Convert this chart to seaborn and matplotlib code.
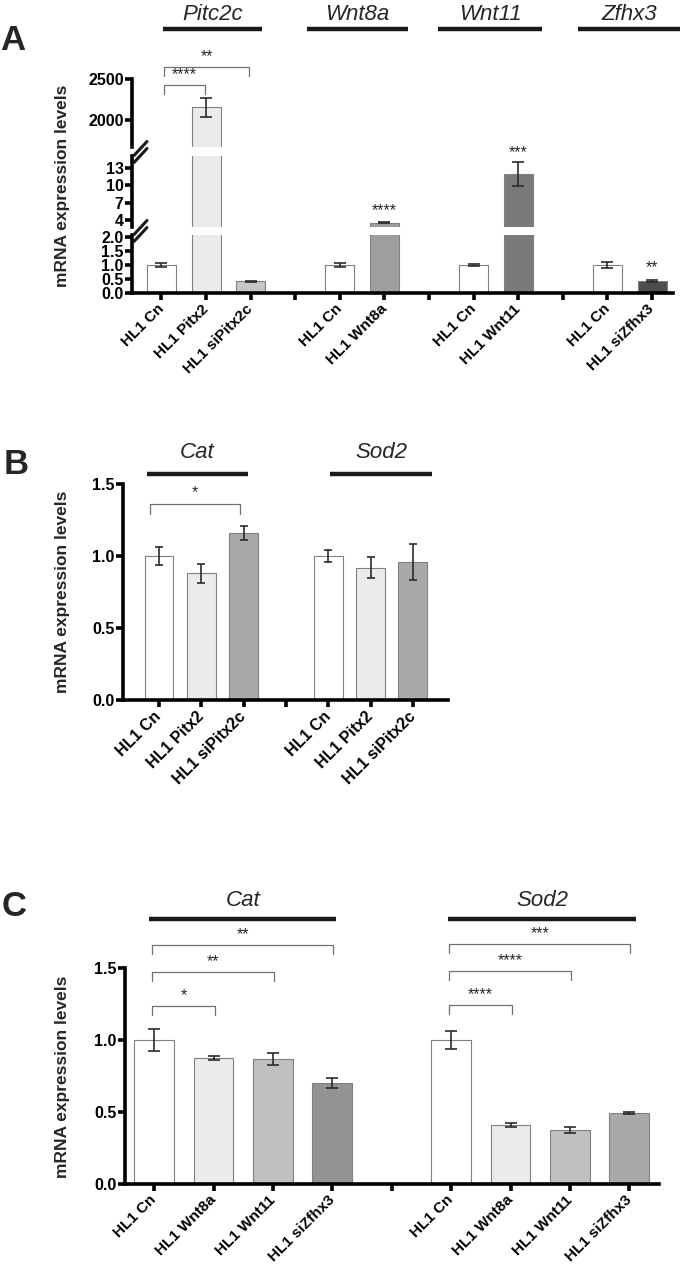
import pandas as pd
import seaborn as sns
from matplotlib import pyplot as plt
from matplotlib import transforms
from matplotlib.lines import Line2D

W, H = 682, 1270

# ---- panel A ----
a_genes = ["Pitc2c", "Wnt8a", "Wnt11", "Zfhx3"]
a_labels = [["HL1 Cn", "HL1 Pitx2", "HL1 siPitx2c"],
            ["HL1 Cn", "HL1 Wnt8a"],
            ["HL1 Cn", "HL1 Wnt11"],
            ["HL1 Cn", "HL1 siZfhx3"]]
a_means = [[1.0, 2155, 0.42], [1.0, 3.5], [1.0, 11.95], [1.0, 0.43]]
a_sems = [[0.07, 116, 0.015], [0.08, 0.1], [0.02, 2.1], [0.1, 0.03]]
a_colors = [["#ffffff", "#ebebeb", "#c6c6c6"], ["#ffffff", "#9e9e9e"],
            ["#ffffff", "#7a7a7a"], ["#ffffff", "#4d4d4d"]]
# (slot_from, slot_to, height, label) -- heights in top-segment units
a_brackets = [(0, 1, 2427, "****"), (0, 2, 2646, "**")]
# single stars: (slot, height, label, segment)
a_stars = [(5, 5.56, "****", "mid"), (8, 15.6, "***", "mid"), (11, 0.89, "**", "bot")]

# ---- panel B ----
b_genes = ["Cat", "Sod2"]
b_labels = [["HL1 Cn", "HL1 Pitx2", "HL1 siPitx2c"]] * 2
b_means = [[1.0, 0.88, 1.16], [1.0, 0.92, 0.955]]
b_sems = [[0.06, 0.065, 0.05], [0.045, 0.07, 0.125]]
b_colors = [["#ffffff", "#ebebeb", "#a9a9a9"]] * 2
b_brackets = [(0, 2, 1.36, "*")]

# ---- panel C ----
c_genes = ["Cat", "Sod2"]
c_labels = [["HL1 Cn", "HL1 Wnt8a", "HL1 Wnt11", "HL1 siZfhx3"]] * 2
c_means = [[1.0, 0.875, 0.865, 0.70], [1.0, 0.41, 0.375, 0.49]]
c_sems = [[0.075, 0.013, 0.042, 0.035], [0.065, 0.012, 0.02, 0.007]]
c_colors = [["#ffffff", "#ebebeb", "#c0c0c0", "#939393"],
            ["#ffffff", "#ebebeb", "#c0c0c0", "#a9a9a9"]]
c_brackets = [(0, 1, 1.236, "*"), (0, 2, 1.472, "**"), (0, 3, 1.66, "**"),
              (5, 6, 1.243, "****"), (5, 7, 1.479, "****"), (5, 8, 1.667, "***")]


def build(labels, means, sems, colors):
    # one slot per bar, with an empty slot between groups
    rows, order, ticks, palette = [], [], [], {}
    for g, (labs, ms, ss, cs) in enumerate(zip(labels, means, sems, colors)):
        if g > 0:
            order.append(f"gap{g}")
            ticks.append("")
        for lab, m, s, c in zip(labs, ms, ss, cs):
            key = f"{g}:{lab}"
            rows.append({"slot": key, "mean": m, "sem": s})
            order.append(key)
            ticks.append(lab)
            palette[key] = c
    return pd.DataFrame(rows), order, ticks, palette


def draw(ax, df, order, palette, width, cap):
    sns.barplot(data=df, x="slot", y="mean", hue="slot", order=order,
                hue_order=list(df["slot"]), palette=palette, width=width,
                edgecolor="#808080", linewidth=0.8, errorbar=None,
                legend=False, ax=ax)
    pos = [order.index(s) for s in df["slot"]]
    ax.errorbar(pos, df["mean"], yerr=df["sem"], fmt="none", ecolor="#2b2b2b",
                elinewidth=1.2, capsize=cap, capthick=1.2, zorder=3)
    ax.set_xlabel("")
    ax.set_ylabel("")


def style(ax, ticks=None, ysize=11, xsize=11):
    ax.spines["left"].set_linewidth(2.6)
    ax.spines["bottom"].set_linewidth(2.6)
    sns.despine(ax=ax, bottom=ticks is None)
    ax.tick_params(axis="y", width=2.6, length=5, labelsize=ysize, pad=1)
    if ticks is None:
        ax.tick_params(axis="x", bottom=False, labelbottom=False)
    else:
        ax.set_xticks(range(len(ticks)))
        ax.set_xticklabels(ticks, rotation=45, ha="right", va="center",
                           rotation_mode="anchor", fontsize=xsize)
        ax.tick_params(axis="x", width=2.6, length=5, pad=5)


def px_axes(fig, l, t, r, b):
    return fig.add_axes([l / W, 1 - b / H, (r - l) / W, (b - t) / H])


def header(fig, ax, x1, x2, name, ty, ly):
    tr = transforms.blended_transform_factory(ax.transData, fig.transFigure)
    ax.plot([x1, x2], [1 - ly / H] * 2, color="k", lw=3.2, transform=tr,
            clip_on=False, solid_capstyle="butt")
    ax.text((x1 + x2) / 2, 1 - ty / H, name, transform=tr, ha="center",
            va="center", fontsize=16, style="italic", fontweight="normal")


def bracket(ax, x1, x2, y, drop, label, gap):
    ax.plot([x1, x1, x2, x2], [y - drop, y, y, y - drop], color="#707070",
            lw=0.9, clip_on=False)
    ax.text((x1 + x2) / 2, y + gap, label, ha="center", va="center",
            fontsize=11.5, fontweight="normal")


sns.set_theme(style="ticks")
plt.rcParams["font.family"] = ["Liberation Sans", "DejaVu Sans"]
plt.rcParams["font.weight"] = "bold"
plt.rcParams["axes.edgecolor"] = "black"
plt.rcParams["xtick.color"] = "black"
plt.rcParams["ytick.color"] = "black"

fig = plt.figure(figsize=(W / 100, H / 100), dpi=100)

# ---------- A: broken y axis in three segments ----------
df, order, ticks, pal = build(a_labels, a_means, a_sems, a_colors)
a_top = px_axes(fig, 132, 79, 673, 147)
a_mid = px_axes(fig, 132, 156, 673, 227)
a_bot = px_axes(fig, 132, 235, 673, 293)
for ax in (a_top, a_mid, a_bot):
    draw(ax, df, order, pal, 0.65, 4)
    ax.set_xlim(-0.66, len(order) - 0.53)
a_top.set_ylim(1670, 2500)
a_top.set_yticks([2000, 2500])
a_mid.set_ylim(2.79, 15.08)
a_mid.set_yticks([4, 7, 10, 13])
a_bot.set_ylim(0, 2.07)
a_bot.set_yticks([0, 0.5, 1.0, 1.5, 2.0])
a_bot.set_yticklabels([f"{v:.1f}" for v in [0, 0.5, 1.0, 1.5, 2.0]])
style(a_top, ysize=11.5)
style(a_mid, ysize=11.5)
style(a_bot, ticks, ysize=11.5, xsize=11)

for yb in (152, 231):
    for off in (-3.5, 3.5):
        fig.add_artist(Line2D([134 / W, 147 / W],
                              [1 - (yb + off + 7) / H, 1 - (yb + off - 7) / H],
                              transform=fig.transFigure, color="k", lw=2.2))

a_spans = [(0.04, 2.25), (3.26, 5.53), (6.2, 8.53), (9.34, 11.62)]
for (x1, x2), g in zip(a_spans, a_genes):
    header(fig, a_top, x1, x2, g, 15, 29)
for i, j, y, lab in a_brackets:
    bracket(a_top, i + 0.06, j - 0.03, y, 110, lab, 122)
for s, y, lab, seg in a_stars:
    (a_mid if seg == "mid" else a_bot).text(s, y, lab, ha="center", va="center",
                                            fontsize=11.5, fontweight="normal")

fig.text(13 / W, 1 - 41 / H, "A", fontsize=25, fontweight="bold", ha="center", va="center")
fig.text(63 / W, 1 - 186 / H, "mRNA expression levels", rotation=90,
         ha="center", va="center", fontsize=12.5, fontweight="bold")

# ---------- B ----------
df, order, ticks, pal = build(b_labels, b_means, b_sems, b_colors)
ax_b = px_axes(fig, 123, 484, 448, 700)
draw(ax_b, df, order, pal, 0.68, 3)
ax_b.set_xlim(-0.85, 6.83)
ax_b.set_ylim(0, 1.5)
ax_b.set_yticks([0, 0.5, 1.0, 1.5])
ax_b.set_yticklabels(["0.0", "0.5", "1.0", "1.5"])
style(ax_b, ticks, ysize=11.5, xsize=11.5)
for (x1, x2), g in zip([(-0.28, 2.1), (4.04, 6.45)], b_genes):
    header(fig, ax_b, x1, x2, g, 453, 474)
for i, j, y, lab in b_brackets:
    bracket(ax_b, i - 0.21, j - 0.09, y, 0.07, lab, 0.08)
fig.text(16 / W, 1 - 465 / H, "B", fontsize=25, fontweight="bold", ha="center", va="center")
fig.text(62 / W, 1 - 592 / H, "mRNA expression levels", rotation=90,
         ha="center", va="center", fontsize=12.5, fontweight="bold")

# ---------- C ----------
df, order, ticks, pal = build(c_labels, c_means, c_sems, c_colors)
ax_c = px_axes(fig, 125, 968, 659, 1184)
draw(ax_c, df, order, pal, 0.67, 4)
ax_c.set_xlim(-0.49, 8.5)
ax_c.set_ylim(0, 1.5)
ax_c.set_yticks([0, 0.5, 1.0, 1.5])
ax_c.set_yticklabels(["0.0", "0.5", "1.0", "1.5"])
style(ax_c, ticks, ysize=11.5, xsize=11)
for (x1, x2), g in zip([(-0.08, 3.06), (4.94, 8.12)], c_genes):
    header(fig, ax_c, x1, x2, g, 900, 919)
for i, j, y, lab in c_brackets:
    bracket(ax_c, i - 0.03, j + 0.02, y, 0.065, lab, 0.075)
fig.text(14 / W, 1 - 906 / H, "C", fontsize=25, fontweight="bold", ha="center", va="center")
fig.text(63 / W, 1 - 1077 / H, "mRNA expression levels", rotation=90,
         ha="center", va="center", fontsize=12.5, fontweight="bold")

fig.savefig("out.png", dpi=100, facecolor="white")
